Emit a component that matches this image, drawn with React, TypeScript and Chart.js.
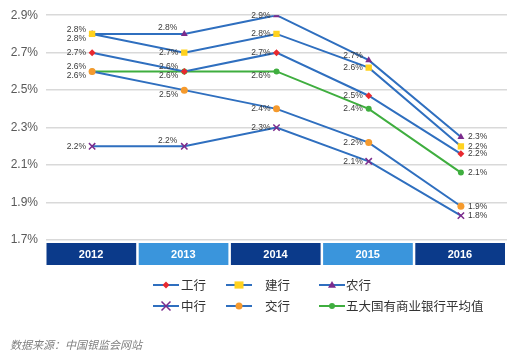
import React, { useEffect, useRef } from "react";
import { Chart, registerables } from "chart.js";

Chart.register(...registerables);

const years = ["2012", "2013", "2014", "2015", "2016"];
const icbc = [2.7, 2.6, 2.7, 2.47, 2.16];
const ccb = [2.8, 2.7, 2.8, 2.62, 2.2];
const abc = [2.8, 2.8, 2.9, 2.66, 2.25];
const boc = [2.2, 2.2, 2.3, 2.12, 1.83];
const bocom = [2.6, 2.5, 2.4, 2.22, 1.88];
const avg = [2.6, 2.6, 2.6, 2.4, 2.06];
const seriesNames = ["工行", "建行", "农行", "中行", "交行", "五大国有商业银行平均值"];
const yTicks = [1.7, 1.9, 2.1, 2.3, 2.5, 2.7, 2.9];
const sourceText = "数据来源：中国银监会网站";

// label placement codes per series/point (style only)
const labelPos = [
  ["l", "a", "l", "l", "r"],
  ["b", "l", "l", "l", "r"],
  ["a", "a2", "l", "a", "r"],
  ["l", "a2", "l", "l", "r"],
  ["a", "b", "l", "l", "r"],
  ["b", "b", "b", "l", "r"],
];

const BLUE = "#2f6fbf";
const GREEN = "#3fae3f";
const FONT = "'Liberation Sans', 'Noto Sans CJK SC', sans-serif";
const CJK = "'Noto Sans CJK SC', 'Liberation Sans', sans-serif";

const markers = [
  { style: "rectRot", color: "#e8292f", r: 3.5 },
  { style: "rect", color: "#ffd21f", r: 4.5 },
  { style: "triangle", color: "#7b2b8c", r: 4 },
  { style: "crossRot", color: "#7b2b8c", r: 4.5 },
  { style: "circle", color: "#f59a2d", r: 3.5 },
  { style: "circle", color: "#3fae3f", r: 3 },
];

const bandsPlugin = {
  id: "bands",
  afterDraw(chart: any) {
    const { ctx, chartArea } = chart;
    const w = (chartArea.right - chartArea.left) / years.length;
    const top = chartArea.bottom + 3;
    const h = 22;
    ctx.save();
    years.forEach((y, i) => {
      const x0 = chartArea.left + i * w;
      ctx.fillStyle = i % 2 === 0 ? "#0b3a8a" : "#3a95dc";
      ctx.fillRect(x0 + 0.5, top, w - 2.5, h);
      ctx.fillStyle = "#ffffff";
      ctx.font = `bold 11px ${FONT}`;
      ctx.textAlign = "center";
      ctx.textBaseline = "middle";
      ctx.fillText(y, x0 + w / 2 - 1, top + h / 2 + 0.5);
    });
    ctx.restore();
  },
};

const labelsPlugin = {
  id: "ptlabels",
  afterDatasetsDraw(chart: any) {
    const { ctx } = chart;
    ctx.save();
    ctx.font = `8.5px ${FONT}`;
    ctx.fillStyle = "#3a3a3a";
    ctx.textBaseline = "middle";
    chart.data.datasets.forEach((ds: any, di: number) => {
      const meta = chart.getDatasetMeta(di);
      meta.data.forEach((pt: any, i: number) => {
        const txt = Number(ds.data[i]).toFixed(1) + "%";
        const pos = labelPos[di][i];
        let x = pt.x;
        let y = pt.y;
        let align: CanvasTextAlign = "right";
        if (pos === "l") { x -= 6; }
        else if (pos === "a") { x -= 6; y -= 4.5; }
        else if (pos === "a2") { x -= 7; y -= 6; }
        else if (pos === "b") { x -= 6; y += 4.5; }
        else if (pos === "r") { x += 7; align = "left"; }
        ctx.textAlign = align;
        ctx.fillText(txt, x, y);
      });
    });
    ctx.restore();
  },
};

const legendPlugin = {
  id: "customLegend",
  afterDraw(chart: any) {
    const { ctx } = chart;
    const cols = [
      { x0: 153, x1: 179, tx: 181 },
      { x0: 226, x1: 252, tx: 265 },
      { x0: 319, x1: 345, tx: 346 },
    ];
    const rows = [285, 306];
    ctx.save();
    seriesNames.forEach((name, i) => {
      const c = cols[i % 3];
      const y = rows[Math.floor(i / 3)];
      ctx.strokeStyle = i === 5 ? GREEN : BLUE;
      ctx.lineWidth = 2;
      ctx.beginPath();
      ctx.moveTo(c.x0, y);
      ctx.lineTo(c.x1, y);
      ctx.stroke();
      const m = markers[i];
      ctx.fillStyle = m.color;
      ctx.strokeStyle = m.color;
      ctx.lineWidth = 1.5;
      (Chart as any).helpers
        ? null
        : null;
      drawMarker(ctx, m.style, m.r, (c.x0 + c.x1) / 2, y);
      ctx.fillStyle = "#333333";
      ctx.font = `12.5px ${CJK}`;
      ctx.textAlign = "left";
      ctx.textBaseline = "middle";
      ctx.fillText(name, c.tx, y + 0.5);
    });
    ctx.fillStyle = "#7f7f7f";
    ctx.font = `italic 11px ${CJK}`;
    ctx.textAlign = "left";
    ctx.textBaseline = "middle";
    ctx.fillText(sourceText, 10, 345);
    ctx.restore();
  },
};

function drawMarker(ctx: CanvasRenderingContext2D, style: string, r: number, x: number, y: number) {
  ctx.beginPath();
  if (style === "circle") {
    ctx.arc(x, y, r, 0, Math.PI * 2);
    ctx.fill();
  } else if (style === "rect") {
    ctx.fillRect(x - r, y - r * 0.8, r * 2, r * 1.6);
  } else if (style === "rectRot") {
    ctx.moveTo(x, y - r);
    ctx.lineTo(x + r, y);
    ctx.lineTo(x, y + r);
    ctx.lineTo(x - r, y);
    ctx.closePath();
    ctx.fill();
  } else if (style === "triangle") {
    ctx.moveTo(x, y - r);
    ctx.lineTo(x + r, y + r * 0.7);
    ctx.lineTo(x - r, y + r * 0.7);
    ctx.closePath();
    ctx.fill();
  } else if (style === "crossRot") {
    ctx.moveTo(x - r, y - r);
    ctx.lineTo(x + r, y + r);
    ctx.moveTo(x + r, y - r);
    ctx.lineTo(x - r, y + r);
    ctx.stroke();
  }
}

export default function App() {
  const ref = useRef<HTMLCanvasElement | null>(null);
  useEffect(() => {
    if (!ref.current) return;
    const all = [icbc, ccb, abc, boc, bocom, avg];
    const chart = new Chart(ref.current, {
      type: "line",
      data: {
        labels: years,
        datasets: all.map((d, i) => ({
          label: seriesNames[i],
          data: d,
          borderColor: i === 5 ? GREEN : BLUE,
          borderWidth: 2,
          tension: 0,
          pointStyle: markers[i].style as any,
          pointRadius: markers[i].r,
          pointBackgroundColor: markers[i].color,
          pointBorderColor: markers[i].color,
          pointBorderWidth: markers[i].style === "crossRot" ? 1.5 : 0,
        })),
      },
      options: {
        responsive: false,
        animation: false,
        layout: { padding: { top: 14, right: 13, bottom: 114, left: 0 } },
        plugins: { legend: { display: false }, tooltip: { enabled: false } },
        scales: {
          x: { display: false, offset: true },
          y: {
            min: 1.7,
            max: 2.9,
            afterBuildTicks: (s: any) => { s.ticks = yTicks.map((v) => ({ value: v })); },
            afterFit: (s: any) => { s.width = 46; },
            border: { display: false },
            grid: { color: "#d9d9d9", lineWidth: 1.5, drawTicks: false },
            ticks: {
              padding: 8,
              color: "#595959",
              font: { size: 12, family: FONT },
              callback: (v: any) => Number(v).toFixed(1) + "%",
            },
          },
        },
      },
      plugins: [bandsPlugin, labelsPlugin, legendPlugin],
    });
    return () => chart.destroy();
  }, []);
  return (
    <div style={{ position: "absolute", left: 0, top: 0, width: 520, height: 354, background: "#fff" }}>
      <canvas ref={ref} width={520} height={354} />
    </div>
  );
}
